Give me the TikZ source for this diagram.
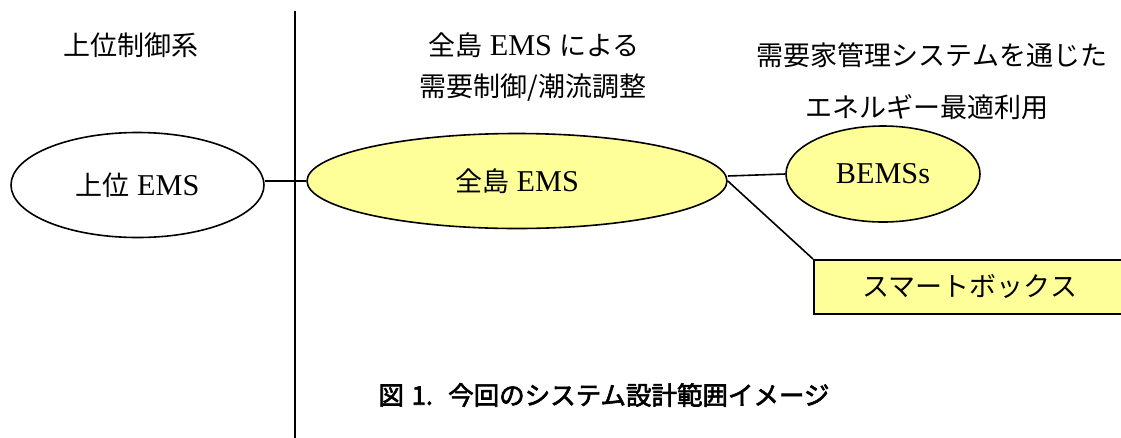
\documentclass[tikz,border=0pt]{standalone}
\usepackage{fontspec}
\setmainfont{Liberation Serif}[Scale=1.12]
\usetikzlibrary{shapes.geometric}
\newfontfamily\jp{Noto Sans CJK JP}
\newfontfamily\jpcap{Noto Sans CJK JP}[AutoFakeBold=2.5]
\newcommand\J[1]{{\jp #1}}
\definecolor{lightyel}{HTML}{FFFF99}
\tikzset{
  lbl/.style={inner sep=0pt, font=\fontsize{27}{30}\selectfont},
  ell/.style={ellipse, draw, line width=1.6pt, inner sep=0pt, font=\fontsize{27}{30}\selectfont},
  yel/.style={fill=lightyel},
  conn/.style={line width=1.6pt},
  divider/.style={line width=2.6pt},
}
\begin{document}
\begin{tikzpicture}[x=1pt,y=-1pt]
\clip (0,0) rectangle (1121,437);
% divider
\coordinate (dtop) at (295,11);
\coordinate (dbot) at (295,445);
\draw[divider] (dtop) -- (dbot);
% headings
\node[lbl] (h1) at (131,45) {\J{上位制御系}};
\node[lbl] (h2a) at (534,45) {\J{全島} EMS \J{による}};
\node[lbl] (h2b) at (533,88) {\J{需要制御/潮流調整}};
\node[lbl] (h3a) at (932,55) {\J{需要家管理システムを通じた}};
\node[lbl] (h3b) at (927,107) {\J{エネルギー最適利用}};
% nodes
\node[ell, minimum width=253, minimum height=105] (upper) at (137.5,185) {\J{上位} EMS};
\node[ell, yel, minimum width=420, minimum height=95] (ems) at (517,181) {\J{全島} EMS};
\node[ell, yel, minimum width=194, minimum height=96] (bems) at (883,174) {BEMSs};
\node[draw, yel, line width=1.6pt, anchor=north west, minimum width=312, minimum height=54,
      inner sep=0pt, font=\fontsize{27}{30}\selectfont] (box) at (813,259) {\J{スマートボックス}};
% connectors
\draw[conn] (upper.east |- ems.west) -- (ems.west);
\draw[conn] ([yshift=5pt]ems.east) -- (bems.west);
\draw[conn] (ems.east) -- (box.north west);
% caption
\node[inner sep=0pt, font=\fontsize{25.5}{28}\selectfont\jpcap\bfseries] (cap) at (604,395) {図\hspace{0.3em}1.\hspace{0.6em}今回のシステム設計範囲イメージ};
\end{tikzpicture}
\end{document}
